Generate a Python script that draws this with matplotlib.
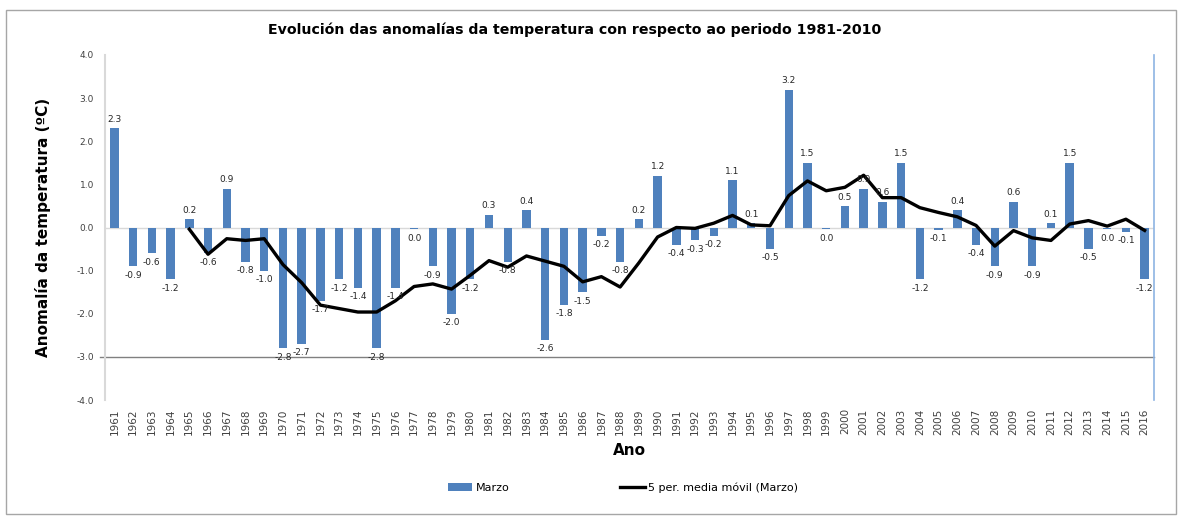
"""Anomalías da temperatura de marzo con media móbil de 5 anos."""

import pandas as pd
import matplotlib.pyplot as plt
from matplotlib.patches import Rectangle

# Data
years = list(range(1961, 2017))
marzo = [2.3, -0.9, -0.6, -1.2, 0.2, -0.6, 0.9, -0.8, -1.0, -2.8,
         -2.7, -1.7, -1.2, -1.4, -2.8, -1.4, -0.04, -0.9, -2.0, -1.2,
         0.3, -0.8, 0.4, -2.6, -1.8, -1.5, -0.2, -0.8, 0.2, 1.2,
         -0.4, -0.3, -0.2, 1.1, 0.1, -0.5, 3.2, 1.5, -0.04, 0.5,
         0.9, 0.6, 1.5, -1.2, -0.06, 0.4, -0.4, -0.9, 0.6, -0.9,
         0.1, 1.5, -0.5, -0.04, -0.1, -1.2]
yticks = [4.0, 3.0, 2.0, 1.0, 0.0, -1.0, -2.0, -3.0, -4.0]

df = pd.DataFrame({"Marzo": marzo}, index=years)
df["media"] = df["Marzo"].rolling(5).mean()  # Excel 5-period moving average trendline

bar_color = "#4f81bd"

fig = plt.figure(figsize=(11.82, 5.2), dpi=100)
ax = fig.add_axes([105 / 1182, 1 - 400 / 520, (1154 - 105) / 1182, 345 / 520])

x = list(range(len(years)))
ax.axhline(0, color="#d9d9d9", lw=1, zorder=0)
bars = ax.bar(x, df["Marzo"], width=0.45, color=bar_color, zorder=2)
trend, = ax.plot(x, df["media"], color="black", lw=2.4, zorder=3)

# Data labels (outside end)
for xi, v in zip(x, marzo):
    label = f"{round(v, 1) + 0.0:.1f}"
    if v >= 0:
        ax.text(xi, v + 0.1, label, ha="center", va="bottom", fontsize=6.5, color="#262626")
    else:
        ax.text(xi, v - 0.1, label, ha="center", va="top", fontsize=6.5, color="#262626")

ax.axhline(-3.0, color="#808080", lw=1, xmin=-0.005, zorder=1, clip_on=False)

ax.set_xlim(-0.5, len(years) - 0.5)
ax.set_ylim(-4.0, 4.0)
ax.set_yticks(yticks)
ax.set_yticklabels([f"{t:.1f}" for t in yticks], fontsize=6.5, color="#404040")
ax.set_xticks(x)
ax.set_xticklabels([str(y) for y in years], rotation=90, fontsize=7.5, color="#404040")
ax.tick_params(axis="both", length=0)
ax.tick_params(axis="y", pad=8)
ax.tick_params(axis="x", pad=6)

for s in ["top", "bottom"]:
    ax.spines[s].set_visible(False)
ax.spines["left"].set_color("#d9d9d9")
ax.spines["left"].set_linewidth(1.5)
ax.spines["right"].set_color("#8eb4e3")
ax.spines["right"].set_linewidth(1.2)

ax.set_ylabel("Anomalía da temperatura (ºC)", fontsize=11, fontweight="bold", labelpad=18)
ax.set_xlabel("Ano", fontsize=11, fontweight="bold", labelpad=6)

fig.text(575 / 1182, 1 - 30 / 520, "Evolución das anomalías da temperatura con respecto ao periodo 1981-2010",
         ha="center", va="center", fontsize=10.2, fontweight="bold")

# Legend
leg = fig.legend(handles=[bars, trend],
                 labels=["Marzo", "5 per. media móvil (Marzo)"],
                 loc="center", bbox_to_anchor=(623 / 1182, 1 - 488 / 520),
                 ncol=2, frameon=False, fontsize=8, columnspacing=10,
                 handlelength=2.2, handletextpad=0.3)

# Outer chart border
fig.patches.append(Rectangle((6 / 1182, 6 / 520), 1170 / 1182, 504 / 520,
                             transform=fig.transFigure, fill=False,
                             edgecolor="#a6a6a6", lw=1))

fig.savefig("out.png", dpi=100)
